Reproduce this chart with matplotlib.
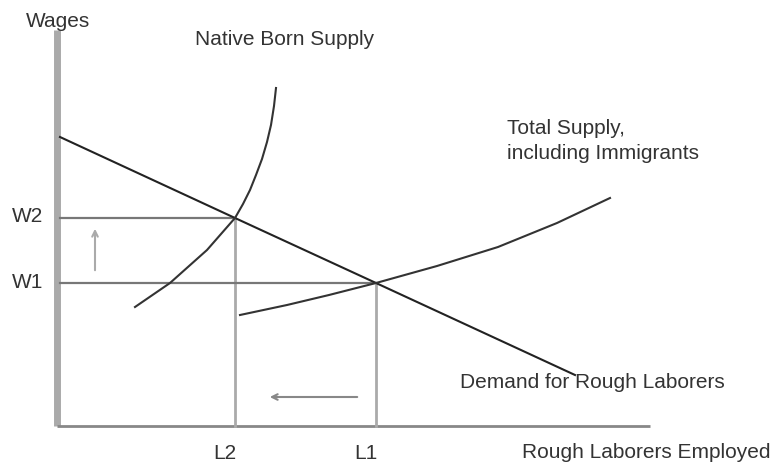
import numpy as np
import matplotlib
matplotlib.use("Agg")
import matplotlib.pyplot as plt

plt.rcParams['font.family'] = ['Liberation Sans', 'DejaVu Sans']

# data (units measured from the origin of the diagram)
L_vals = [178, 319]          # L2, L1
L_labels = ["L2", "L1"]
W_vals = [208, 143]          # W2, W1
W_labels = ["W2", "W1"]

demand_x = [3, 178, 319, 518]
demand_y = [289, 208, 143, 51]

native_x = [78, 113, 150, 178, 186, 193, 199, 205, 210, 214, 217, 219]
native_y = [119, 143, 176, 208, 222, 236, 251, 267, 284, 301, 320, 338]

total_x = [183, 230, 272, 319, 380, 441, 500, 553]
total_y = [111, 121, 131, 143, 160, 179, 203, 228]

x_end = 593
y_end = 396

fig = plt.figure(figsize=(7.83, 4.65), dpi=100)
ax = fig.add_axes([0, 0, 1, 1])
ax.set_xlim(-57, 726)
ax.set_ylim(-39, 426)
ax.set_axis_off()

# axes of the diagram
ax.plot([0, 0], [0, y_end], color='#aaaaaa', lw=5, solid_capstyle='butt')
ax.plot([0, x_end], [0, 0], color='#888888', lw=2, solid_capstyle='butt')

# wage levels and employment levels
for w, lq in zip(W_vals, L_vals):
    ax.plot([3, lq], [w, w], color='#777777', lw=1.6)
    ax.plot([lq, lq], [0, w], color='#aaaaaa', lw=2)

# curves
ax.plot(demand_x, demand_y, color='#222222', lw=1.5)
ax.plot(native_x, native_y, color='#333333', lw=1.5)
ax.plot(total_x, total_y, color='#333333', lw=1.5)

# arrows
ax.annotate("", xy=(38, 200), xytext=(38, 153),
            arrowprops=dict(arrowstyle='->', color='#aaaaaa', lw=1.5))
ax.annotate("", xy=(210, 29), xytext=(303, 29),
            arrowprops=dict(arrowstyle='->', color='#888888', lw=1.5))

# text
tc = '#333333'
fs = 15
ax.text(1, 404, "Wages", fontsize=fs, color=tc, ha='center', va='center')
ax.text(228, 386, "Native Born Supply", fontsize=fs, color=tc, ha='center', va='center')
ax.text(450, 285, "Total Supply,\nincluding Immigrants", fontsize=fs, color=tc,
        ha='left', va='center', linespacing=1.4)
ax.text(403, 44, "Demand for Rough Laborers", fontsize=fs, color=tc, ha='left', va='center')
ax.text(465, -26, "Rough Laborers Employed", fontsize=fs, color=tc, ha='left', va='center')
for lq, lab in zip(L_vals, L_labels):
    ax.text(lq - 10, -27, lab, fontsize=fs, color=tc, ha='center', va='center')
for w, lab in zip(W_vals, W_labels):
    ax.text(-29, w + 1, lab, fontsize=fs, color=tc, ha='center', va='center')

fig.savefig("out.png", dpi=100)
